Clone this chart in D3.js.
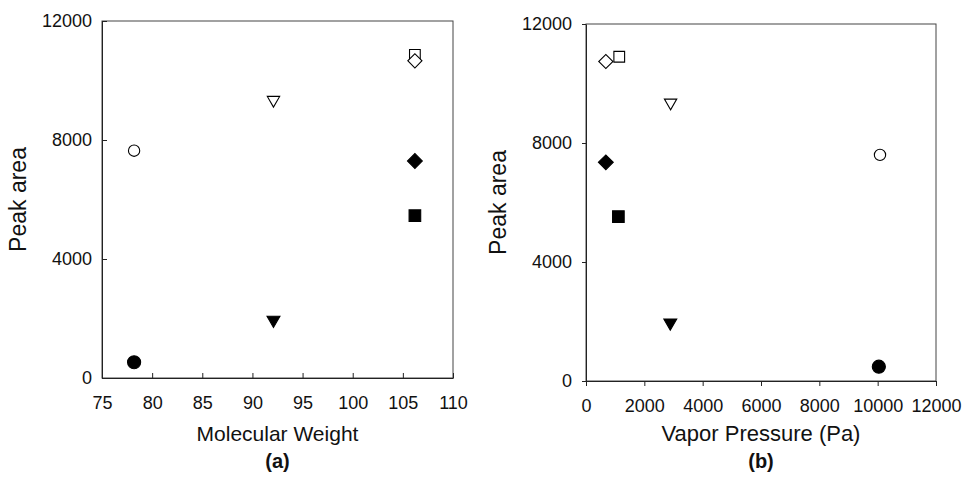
<!DOCTYPE html>
<html lang="en">
<head>
    <meta charset="UTF-8">
    <title>Peak area vs molecular weight and vapor pressure</title>
    <style>
        body { margin: 0; background: #fff; }
        svg { display: block; }
        .tick text { font-family: "Liberation Sans", Arial, sans-serif; font-size: 18px; fill: #111; }
        .axis path, .axis line { stroke: #222; }
        .frame { fill: none; stroke: #444; }
        .title { font-family: "Liberation Sans", Arial, sans-serif; fill: #111; text-anchor: middle; }
    </style>
</head>
<body>
<svg width="962" height="480"></svg>
<script src="https://d3js.org/d3.v7.min.js"></script>
<script>
    // marker order: open symbols are the first measurement, filled the second
    var markerKeys    = ["circleOpen", "circleFilled", "triOpen", "triFilled", "squareOpen", "squareFilled", "diamondOpen", "diamondFilled"];
    var molWeight     = [78.2, 78.2, 92.1, 92.1, 106.2, 106.2, 106.2, 106.2];
    var vaporPressure = [10080, 10040, 2900, 2890, 1140, 1110, 680, 680];
    var peakAreaA     = [7640, 530, 9345, 1950, 10860, 5455, 10660, 7295];
    var peakAreaB     = [7600, 480, 9355, 1960, 10900, 5525, 10740, 7350];

    var mwTicks = [75, 80, 85, 90, 95, 100, 105, 110];
    var vpTicks = [0, 2000, 4000, 6000, 8000, 10000, 12000];
    var areaTicks = [0, 4000, 8000, 12000];

    var svg = d3.select("svg");

    var markerStyle = {
        circleOpen:    {type: d3.symbolCircle,   size: 100, fill: "#fff", rot: 0},
        circleFilled:  {type: d3.symbolCircle,   size: 135, fill: "#000", rot: 0},
        triOpen:       {type: d3.symbolTriangle, size: 66,  fill: "#fff", rot: 180},
        triFilled:     {type: d3.symbolTriangle, size: 72,  fill: "#000", rot: 180},
        squareOpen:    {type: d3.symbolSquare,   size: 115, fill: "#fff", rot: 0},
        squareFilled:  {type: d3.symbolSquare,   size: 135, fill: "#000", rot: 0},
        diamondOpen:   {type: d3.symbolSquare,   size: 100, fill: "#fff", rot: 45},
        diamondFilled: {type: d3.symbolSquare,   size: 110, fill: "#000", rot: 45}
    };

    function drawPanel(p) {
        var x = d3.scaleLinear().domain(p.xDomain).range([p.left, p.right]);
        var y = d3.scaleLinear().domain([0, 12000]).range([p.bottom, p.top]);
        var g = svg.append("g");

        g.append("rect").attr("class", "frame")
            .attr("x", p.left).attr("y", p.top)
            .attr("width", p.right - p.left).attr("height", p.bottom - p.top);

        g.append("g").attr("class", "axis")
            .attr("transform", "translate(0," + p.bottom + ")")
            .call(d3.axisBottom(x).tickValues(p.xTicks).tickSizeInner(p.tickIn ? -5 : 5).tickSizeOuter(0)
                .tickPadding(p.tickIn ? 18 : 13).tickFormat(d3.format("d")));

        g.append("g").attr("class", "axis")
            .attr("transform", "translate(" + p.left + ",0)")
            .call(d3.axisLeft(y).tickValues(areaTicks).tickSizeInner(p.tickIn ? -5 : 4).tickSizeOuter(0)
                .tickPadding(10).tickFormat(d3.format("d")));

        var pts = markerKeys.map(function(k, i) {
            return {key: k, x: p.xs[i], y: p.ys[i]};
        });

        g.selectAll(".pt").data(pts).enter().append("path")
            .attr("class", "pt")
            .attr("d", function(d) { var s = markerStyle[d.key]; return d3.symbol().type(s.type).size(s.size)(); })
            .attr("transform", function(d) {
                return "translate(" + x(d.x) + "," + y(d.y) + ") rotate(" + markerStyle[d.key].rot + ")";
            })
            .attr("fill", function(d) { return markerStyle[d.key].fill; })
            .attr("stroke", "#000").attr("stroke-width", 1.1);

        var cx = (p.left + p.right) / 2;
        g.append("text").attr("class", "title")
            .attr("x", cx).attr("y", 441)
            .style("font-size", p.xLabelSize + "px")
            .text(p.xLabel);
        g.append("text").attr("class", "title")
            .attr("x", cx).attr("y", 468)
            .style("font-size", "20px").style("font-weight", "bold")
            .text(p.tag);
        g.append("text").attr("class", "title")
            .attr("transform", "translate(" + (p.yLabelX) + "," + ((p.top + p.bottom) / 2) + ") rotate(-90)")
            .style("font-size", "23px")
            .text("Peak area");
    }

    drawPanel({
        left: 102, right: 453, top: 21, bottom: 378,
        xDomain: [75, 110], xTicks: mwTicks, xs: molWeight, ys: peakAreaA,
        tickIn: true, xLabel: "Molecular Weight", xLabelSize: 21, tag: "(a)", yLabelX: 26
    });

    drawPanel({
        left: 586, right: 936, top: 24, bottom: 381,
        xDomain: [0, 12000], xTicks: vpTicks, xs: vaporPressure, ys: peakAreaB,
        tickIn: false, xLabel: "Vapor Pressure (Pa)", xLabelSize: 22, tag: "(b)", yLabelX: 506
    });
</script>
</body>
</html>
